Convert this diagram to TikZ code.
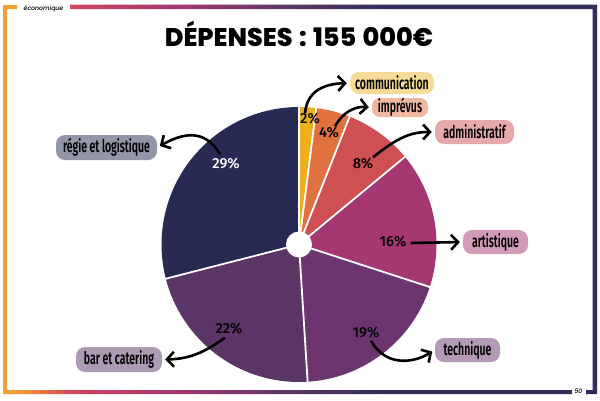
\documentclass[tikz,border=0pt]{standalone}
\usepackage{fontspec}
\setmainfont{Fira Sans}
\newfontfamily\titlefont{Poppins}[UprightFont=* ExtraBold,WordSpace=1.3]
\newfontfamily\labfont{Fira Sans}[FakeStretch=0.6,UprightFont=* SemiBold]
\newfontfamily\pctfont{Fira Sans}[UprightFont=* Medium]
\newfontfamily\tagfont{Poppins}[UprightFont=* Medium Italic]
\usetikzlibrary{arrows.meta}
\definecolor{c2}{HTML}{EFAF1A}
\definecolor{c4}{HTML}{E27140}
\definecolor{c8}{HTML}{CF5053}
\definecolor{c16}{HTML}{A53772}
\definecolor{c19}{HTML}{6C3570}
\definecolor{c22}{HTML}{5C3567}
\definecolor{c29}{HTML}{282A54}
\definecolor{fo}{HTML}{F3A032}
\definecolor{fr}{HTML}{CF4460}
\definecolor{fm}{HTML}{A53772}
\definecolor{fp}{HTML}{5C3567}
\definecolor{fn}{HTML}{2F2D5C}
\pgfdeclarehorizontalshading{framegrad}{400pt}{
  color(0pt)=(fo); color(15pt)=(fo); color(75pt)=(fr); color(175pt)=(fm); color(290pt)=(fp); color(390pt)=(fn); color(600pt)=(fn)}
\tikzset{
  x=1pt,y=-1pt,
  pill/.style={rounded corners=9pt,inner sep=0pt,font=\labfont\fontsize{17.5}{17}\selectfont,text=black,anchor=center},
  pct/.style={inner sep=0pt,font=\pctfont\fontsize{14.5}{14}\selectfont},
  arr/.style={-{Straight Barb[length=7pt,width=15pt,line width=2.6pt]},line width=2.6pt,black,shorten >=3pt},
  sep/.style={white,line width=1.8pt},
}
\newcommand{\slicepie}[3]{\fill[#3] (299,244.5) -- plot[domain=#1:#2,samples=40] ({299+137.5*sin(\x)},{244.5-137.5*cos(\x)}) -- cycle;}
\begin{document}
\begin{tikzpicture}
\useasboundingbox (0,0) rectangle (600,400);
\fill[white] (0,0) rectangle (600,400);
% frame
\begin{scope}
\clip (3,5) rectangle (7,394)
      (3,5) rectangle (17,9)
      (70,4.5) rectangle (597,9)
      (3,390) rectangle (572,394)
      (586,390) rectangle (597,394)
      (592.5,4.5) rectangle (597,394);
\node[inner sep=0pt,outer sep=0pt,anchor=north west] (bg) at (0,0) {\pgfuseshading{framegrad}};
\end{scope}
\node[inner sep=0pt,font=\tagfont\fontsize{6.2}{7}\selectfont] (tag) at (43.5,8.5) {économique};
\node[inner sep=0pt,font=\tagfont\fontsize{6.2}{7}\selectfont] (pagenum) at (578.5,391) {50};
\node[inner sep=0pt,font=\titlefont\fontsize{25.5}{28}\selectfont] (title) at (299,33.5) {DÉPENSES : 155 000€};
% pie
\slicepie{0}{7.2}{c2}
\slicepie{7.2}{21.6}{c4}
\slicepie{21.6}{50.4}{c8}
\slicepie{50.4}{108}{c16}
\slicepie{108}{176.4}{c19}
\slicepie{176.4}{255.6}{c22}
\slicepie{255.6}{360}{c29}
\coordinate (ctr) at (299,244.5);
\foreach \a in {0,7.2,21.6,50.4,108,176.4,255.6}
  \draw[sep] (ctr) -- ({299+139*sin(\a)},{244.5-139*cos(\a)});
\fill[white] (ctr) circle[radius=13];
% labels
\node[pill,fill=c2!45!white,minimum width=84pt,minimum height=22pt] (lcom) at (392,83) {communication};
\node[pill,fill=c4!50!white,minimum width=56pt,minimum height=19pt,rounded corners=8pt] (limp) at (400,107.5) {imprévus};
\node[pill,fill=c8!50!white,minimum width=79pt,minimum height=24pt] (ladm) at (474.5,132) {administratif};
\node[pill,fill=c16!50!white,minimum width=65pt,minimum height=24pt] (lart) at (495.5,242) {artistique};
\node[pill,fill=c19!50!white,minimum width=65pt,minimum height=24pt] (ltec) at (467.5,350) {technique};
\node[pill,fill=c22!50!white,minimum width=86pt,minimum height=25pt] (lbar) at (119,359.5) {bar et catering};
\node[pill,fill=c29!50!white,minimum width=101pt,minimum height=25pt] (lreg) at (106.5,147.5) {régie et logistique};
% percents
\node[pct] (p2) at (310,119) {2\%};
\node[pct] (p4) at (329,133) {4\%};
\node[pct] (p8) at (363,164) {8\%};
\node[pct] (p16) at (393,242) {16\%};
\node[pct] (p19) at (366,333) {19\%};
\node[pct] (p22) at (229,329) {22\%};
\node[pct,text=white] (p29) at (226,164) {29\%};
% arrows
\draw[arr] (p29.north) ++(-6,-4) .. controls (207,132) and (188,130) .. (lreg.east);
\draw[arr] (p2.north) ++(-5,0) .. controls (307,92) and (322,84) .. (lcom.west);
\draw[arr] (p4.north) ++(6,-1) .. controls (343,112) and (355,106) .. (limp.west);
\draw[arr] (p8.north) ++(10,-1) .. controls (397,138) and (410,132) .. (ladm.west);
\draw[arr] (p16.east) ++(4,1) -- (lart.west);
\draw[arr] (p19.south) ++(5,2) .. controls (385,366) and (412,364) .. (ltec.west);
\draw[arr] (p22.south) ++(-4,3) .. controls (205,352) and (190,359) .. (lbar.east);
\end{tikzpicture}
\end{document}
